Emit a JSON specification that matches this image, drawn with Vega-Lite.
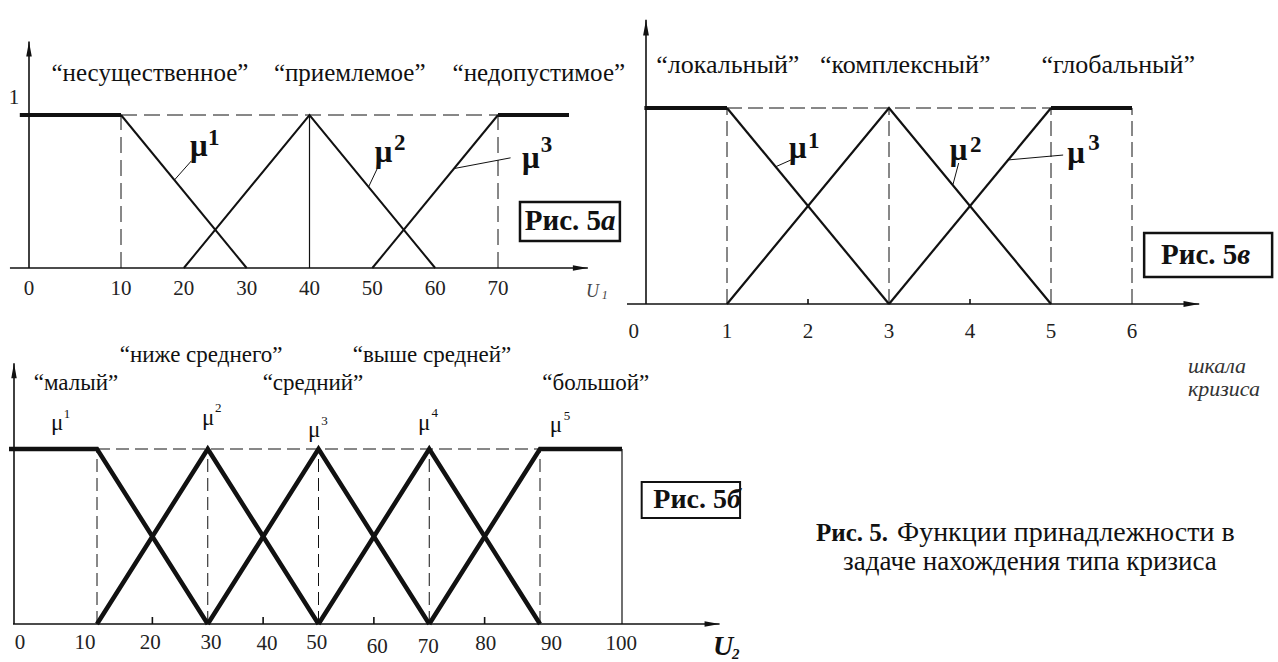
{
  "$schema": "https://vega.github.io/schema/vega-lite/v6.json",
  "width": 1278,
  "height": 662,
  "padding": 0,
  "autosize": {"type": "none"},
  "background": "white",
  "config": {
    "view": {"stroke": null},
    "mark": {"font": "Liberation Serif"},
    "text": {"font": "Liberation Serif", "color": "#111"},
    "rule": {"color": "#111"},
    "line": {"color": "#111"}
  },
  "datasets": {
    "aSeg": [
      {"k": "dash", "x": 10, "y": 0, "x2": 10, "y2": 1},
      {"k": "dash", "x": 70, "y": 0, "x2": 70, "y2": 1},
      {"k": "dash", "x": 10, "y": 1, "x2": 70, "y2": 1},
      {"k": "solid", "x": 40, "y": 0, "x2": 40, "y2": 1},
      {"k": "axis", "x": -2.07, "y": 0, "x2": 84.3, "y2": 0},
      {"k": "axis", "x": 0, "y": 0, "x2": 0, "y2": 1.48},
      {"k": "leader", "x": 18.5, "y": 0.575, "x2": 21.2, "y2": 0.7},
      {"k": "leader", "x": 49.4, "y": 0.53, "x2": 51.2, "y2": 0.686},
      {"k": "leader", "x": 63, "y": 0.65, "x2": 72, "y2": 0.72}
    ],
    "aMF": [
      {"mf": "m1", "o": 1, "x": 10, "y": 1},
      {"mf": "m1", "o": 2, "x": 30, "y": 0},
      {"mf": "m2", "o": 1, "x": 20, "y": 0},
      {"mf": "m2", "o": 2, "x": 40, "y": 1},
      {"mf": "m2", "o": 3, "x": 60, "y": 0},
      {"mf": "m3", "o": 1, "x": 50, "y": 0},
      {"mf": "m3", "o": 2, "x": 70, "y": 1}
    ],
    "aPlat": [
      {"mf": "p1", "o": 1, "x": -1, "y": 1},
      {"mf": "p1", "o": 2, "x": 10, "y": 1},
      {"mf": "p3", "o": 1, "x": 70, "y": 1},
      {"mf": "p3", "o": 2, "x": 81.3, "y": 1}
    ],
    "aArrow": [
      {"d": "r", "x": 84.3, "y": 0},
      {"d": "u", "x": 0, "y": 1.48}
    ],
    "aBox": [{"x": 73.5, "y": 0.176, "x2": 89.4, "y2": 0.431}],
    "aText": [
      {"k": "tick", "x": 0, "y": -0.137, "t": "0"},
      {"k": "tick", "x": 10, "y": -0.137, "t": "10"},
      {"k": "tick", "x": 20, "y": -0.137, "t": "20"},
      {"k": "tick", "x": 30, "y": -0.137, "t": "30"},
      {"k": "tick", "x": 40, "y": -0.137, "t": "40"},
      {"k": "tick", "x": 50, "y": -0.137, "t": "50"},
      {"k": "tick", "x": 60, "y": -0.137, "t": "60"},
      {"k": "tick", "x": 70, "y": -0.137, "t": "70"},
      {"k": "tick", "x": -1.63, "y": 1.11, "t": "1"},
      {"k": "cat", "x": 14.6, "y": 1.275, "t": "“несущественное”"},
      {"k": "cat", "x": 46.4, "y": 1.275, "t": "“приемлемое”"},
      {"k": "cat", "x": 76.5, "y": 1.275, "t": "“недопустимое”"},
      {"k": "mu", "x": 21.0, "y": 0.732, "t": "μ"},
      {"k": "mu", "x": 50.4, "y": 0.693, "t": "μ"},
      {"k": "mu", "x": 73.8, "y": 0.654, "t": "μ"},
      {"k": "sup", "x": 23.85, "y": 0.804, "t": "1"},
      {"k": "sup", "x": 53.45, "y": 0.771, "t": "2"},
      {"k": "sup", "x": 76.8, "y": 0.758, "t": "3"},
      {"k": "box", "x": 86.4, "y": 0.304, "t": "Рис. 5"},
      {"k": "boxi", "x": 86.4, "y": 0.304, "t": "а"},
      {"k": "u", "x": 84.0, "y": -0.19, "t": "U"},
      {"k": "usub", "x": 86.5, "y": -0.205, "t": "1"}
    ],
    "bSeg": [
      {"k": "dash", "x": 1, "y": 1, "x2": 6, "y2": 1},
      {"k": "dash", "x": 1, "y": 0, "x2": 1, "y2": 1},
      {"k": "dash", "x": 3, "y": 0, "x2": 3, "y2": 1},
      {"k": "dash", "x": 5, "y": 0, "x2": 5, "y2": 1},
      {"k": "dash", "x": 6, "y": 0, "x2": 6, "y2": 1},
      {"k": "axis", "x": -0.235, "y": 0, "x2": 6.83, "y2": 0},
      {"k": "axis", "x": 0, "y": 0, "x2": 0, "y2": 1.45},
      {"k": "axis", "x": 2, "y": 0, "x2": 2, "y2": 0.025},
      {"k": "axis", "x": 4, "y": 0, "x2": 4, "y2": 0.025},
      {"k": "leader", "x": 1.6, "y": 0.7, "x2": 1.79, "y2": 0.735},
      {"k": "leader", "x": 3.79, "y": 0.61, "x2": 3.86, "y2": 0.719},
      {"k": "leader", "x": 4.47, "y": 0.735, "x2": 5.15, "y2": 0.76}
    ],
    "bMF": [
      {"mf": "m1", "o": 1, "x": 1, "y": 1},
      {"mf": "m1", "o": 2, "x": 3, "y": 0},
      {"mf": "m2", "o": 1, "x": 1, "y": 0},
      {"mf": "m2", "o": 2, "x": 3, "y": 1},
      {"mf": "m2", "o": 3, "x": 5, "y": 0},
      {"mf": "m3", "o": 1, "x": 3, "y": 0},
      {"mf": "m3", "o": 2, "x": 5, "y": 1}
    ],
    "bPlat": [
      {"mf": "p1", "o": 1, "x": -0.02, "y": 1},
      {"mf": "p1", "o": 2, "x": 1, "y": 1},
      {"mf": "p3", "o": 1, "x": 5, "y": 1},
      {"mf": "p3", "o": 2, "x": 6, "y": 1}
    ],
    "bArrow": [
      {"d": "r", "x": 6.83, "y": 0},
      {"d": "u", "x": 0, "y": 1.45}
    ],
    "bBox": [{"x": 6.15, "y": 0.138, "x2": 7.73, "y2": 0.362}],
    "bText": [
      {"k": "tick", "x": -0.15, "y": -0.143, "t": "0"},
      {"k": "tick", "x": 1, "y": -0.143, "t": "1"},
      {"k": "tick", "x": 2, "y": -0.143, "t": "2"},
      {"k": "tick", "x": 3, "y": -0.143, "t": "3"},
      {"k": "tick", "x": 4, "y": -0.143, "t": "4"},
      {"k": "tick", "x": 5, "y": -0.143, "t": "5"},
      {"k": "tick", "x": 6, "y": -0.143, "t": "6"},
      {"k": "cat", "x": 1.01, "y": 1.219, "t": "“локальный”"},
      {"k": "cat", "x": 3.2, "y": 1.219, "t": "“комплексный”"},
      {"k": "cat", "x": 5.83, "y": 1.219, "t": "“глобальный”"},
      {"k": "mu", "x": 1.765, "y": 0.745, "t": "μ"},
      {"k": "mu", "x": 3.75, "y": 0.735, "t": "μ"},
      {"k": "mu", "x": 5.2, "y": 0.719, "t": "μ"},
      {"k": "sup", "x": 2.0, "y": 0.796, "t": "1"},
      {"k": "sup", "x": 4.0, "y": 0.776, "t": "2"},
      {"k": "sup", "x": 5.46, "y": 0.786, "t": "3"},
      {"k": "box", "x": 7.3, "y": 0.25, "t": "Рис. 5"},
      {"k": "boxi", "x": 7.3, "y": 0.25, "t": "в"},
      {"k": "note", "x": 6.69, "y": -0.316, "t": "шкала"},
      {"k": "note", "x": 6.69, "y": -0.434, "t": "кризиса"},
      {"k": "capb", "x": 2.988, "y": -1.168, "t": "Рис. 5."},
      {"k": "capr", "x": 3.099, "y": -1.168, "t": "Функции принадлежности в"},
      {"k": "capc", "x": 4.74, "y": -1.316, "t": "задаче нахождения типа кризиса"}
    ],
    "cSeg": [
      {"k": "dash", "x": 10, "y": 1, "x2": 90, "y2": 1},
      {"k": "dash", "x": 10, "y": 0, "x2": 10, "y2": 1},
      {"k": "dash", "x": 30, "y": 0, "x2": 30, "y2": 1},
      {"k": "dash", "x": 50, "y": 0, "x2": 50, "y2": 1},
      {"k": "dash", "x": 70, "y": 0, "x2": 70, "y2": 1},
      {"k": "dash", "x": 90, "y": 0, "x2": 90, "y2": 1},
      {"k": "solid", "x": 100, "y": 0, "x2": 100, "y2": 1},
      {"k": "axis", "x": -0.12, "y": 0, "x2": 111.9, "y2": 0},
      {"k": "axis", "x": 0, "y": 0, "x2": 0, "y2": 1.49},
      {"k": "axis", "x": 20, "y": 0, "x2": 20, "y2": 0.04},
      {"k": "axis", "x": 40, "y": 0, "x2": 40, "y2": 0.04},
      {"k": "axis", "x": 60, "y": 0, "x2": 60, "y2": 0.04},
      {"k": "axis", "x": 80, "y": 0, "x2": 80, "y2": 0.04}
    ],
    "cMF": [
      {"mf": "m1", "o": 1, "x": -0.6, "y": 1},
      {"mf": "m1", "o": 2, "x": 10, "y": 1},
      {"mf": "m1", "o": 3, "x": 30, "y": 0},
      {"mf": "m2", "o": 1, "x": 10, "y": 0},
      {"mf": "m2", "o": 2, "x": 30, "y": 1},
      {"mf": "m2", "o": 3, "x": 50, "y": 0},
      {"mf": "m3", "o": 1, "x": 30, "y": 0},
      {"mf": "m3", "o": 2, "x": 50, "y": 1},
      {"mf": "m3", "o": 3, "x": 70, "y": 0},
      {"mf": "m4", "o": 1, "x": 50, "y": 0},
      {"mf": "m4", "o": 2, "x": 70, "y": 1},
      {"mf": "m4", "o": 3, "x": 90, "y": 0},
      {"mf": "m5", "o": 1, "x": 70, "y": 0},
      {"mf": "m5", "o": 2, "x": 90, "y": 1},
      {"mf": "m5", "o": 3, "x": 100, "y": 1}
    ],
    "cArrow": [
      {"d": "r", "x": 111.9, "y": 0},
      {"d": "u", "x": 0, "y": 1.49}
    ],
    "cBox": [{"x": 102.4, "y": 0.606, "x2": 114.4, "y2": 0.811}],
    "cText": [
      {"k": "tick", "x": 0.72, "y": -0.109, "t": "0"},
      {"k": "tick", "x": 8.55, "y": -0.109, "t": "10"},
      {"k": "tick", "x": 19.6, "y": -0.109, "t": "20"},
      {"k": "tick", "x": 30.6, "y": -0.109, "t": "30"},
      {"k": "tick", "x": 40.7, "y": -0.115, "t": "40"},
      {"k": "tick", "x": 49.7, "y": -0.109, "t": "50"},
      {"k": "tick", "x": 60.6, "y": -0.131, "t": "60"},
      {"k": "tick", "x": 69.8, "y": -0.131, "t": "70"},
      {"k": "tick", "x": 80.2, "y": -0.115, "t": "80"},
      {"k": "tick", "x": 91.4, "y": -0.115, "t": "90"},
      {"k": "tick", "x": 99.9, "y": -0.115, "t": "100"},
      {"k": "cat", "x": 7.47, "y": 1.377, "t": "“малый”"},
      {"k": "cat", "x": 28.8, "y": 1.537, "t": "“ниже среднего”"},
      {"k": "cat", "x": 49.0, "y": 1.377, "t": "“средний”"},
      {"k": "cat", "x": 70.5, "y": 1.537, "t": "“выше средней”"},
      {"k": "cat", "x": 96.8, "y": 1.377, "t": "“большой”"},
      {"k": "mu", "x": 4.46, "y": 1.109, "t": "μ"},
      {"k": "mu", "x": 28.96, "y": 1.137, "t": "μ"},
      {"k": "mu", "x": 48.1, "y": 1.069, "t": "μ"},
      {"k": "mu", "x": 67.97, "y": 1.109, "t": "μ"},
      {"k": "mu", "x": 91.2, "y": 1.097, "t": "μ"},
      {"k": "sup", "x": 6.0, "y": 1.177, "t": "1"},
      {"k": "sup", "x": 31.3, "y": 1.211, "t": "2"},
      {"k": "sup", "x": 50.5, "y": 1.137, "t": "3"},
      {"k": "sup", "x": 70.4, "y": 1.183, "t": "4"},
      {"k": "sup", "x": 92.9, "y": 1.166, "t": "5"},
      {"k": "box", "x": 112.8, "y": 0.709, "t": "Рис. 5"},
      {"k": "boxi", "x": 112.8, "y": 0.709, "t": "б"},
      {"k": "u", "x": 111.1, "y": -0.177, "t": "U"},
      {"k": "usub", "x": 113.4, "y": -0.2, "t": "2"}
    ]
  },
  "layer": [
    {
      "layer": [
        {"data": {"name": "aSeg"}, "transform": [{"filter": "datum.k === 'dash'"}], "mark": {"type": "rule", "strokeDash": [16, 7], "strokeWidth": 1},
         "encoding": {"x": {"field": "x", "type": "quantitative", "scale": {"domain": [0, 10, 70], "range": [29, 121, 498], "zero": false, "nice": false}, "axis": null}, "y": {"field": "y", "type": "quantitative", "scale": {"domain": [0, 1], "range": [268, 115], "zero": false, "nice": false}, "axis": null}, "x2": {"field": "x2"}, "y2": {"field": "y2"}}},
        {"data": {"name": "aSeg"}, "transform": [{"filter": "datum.k === 'solid'"}], "mark": {"type": "rule", "strokeWidth": 1.2},
         "encoding": {"x": {"field": "x", "type": "quantitative", "scale": {"domain": [0, 10, 70], "range": [29, 121, 498], "zero": false, "nice": false}, "axis": null}, "y": {"field": "y", "type": "quantitative", "scale": {"domain": [0, 1], "range": [268, 115], "zero": false, "nice": false}, "axis": null}, "x2": {"field": "x2"}, "y2": {"field": "y2"}}},
        {"data": {"name": "aSeg"}, "transform": [{"filter": "datum.k === 'axis'"}], "mark": {"type": "rule", "strokeWidth": 1.6},
         "encoding": {"x": {"field": "x", "type": "quantitative", "scale": {"domain": [0, 10, 70], "range": [29, 121, 498], "zero": false, "nice": false}, "axis": null}, "y": {"field": "y", "type": "quantitative", "scale": {"domain": [0, 1], "range": [268, 115], "zero": false, "nice": false}, "axis": null}, "x2": {"field": "x2"}, "y2": {"field": "y2"}}},
        {"data": {"name": "aSeg"}, "transform": [{"filter": "datum.k === 'leader'"}], "mark": {"type": "rule", "strokeWidth": 1},
         "encoding": {"x": {"field": "x", "type": "quantitative", "scale": {"domain": [0, 10, 70], "range": [29, 121, 498], "zero": false, "nice": false}, "axis": null}, "y": {"field": "y", "type": "quantitative", "scale": {"domain": [0, 1], "range": [268, 115], "zero": false, "nice": false}, "axis": null}, "x2": {"field": "x2"}, "y2": {"field": "y2"}}},
        {"data": {"name": "aMF"}, "mark": {"type": "line", "strokeWidth": 2},
         "encoding": {"x": {"field": "x", "type": "quantitative", "scale": {"domain": [0, 10, 70], "range": [29, 121, 498], "zero": false, "nice": false}, "axis": null}, "y": {"field": "y", "type": "quantitative", "scale": {"domain": [0, 1], "range": [268, 115], "zero": false, "nice": false}, "axis": null}, "detail": {"field": "mf"}, "order": {"field": "o"}}},
        {"data": {"name": "aPlat"}, "mark": {"type": "line", "strokeWidth": 4},
         "encoding": {"x": {"field": "x", "type": "quantitative", "scale": {"domain": [0, 10, 70], "range": [29, 121, 498], "zero": false, "nice": false}, "axis": null}, "y": {"field": "y", "type": "quantitative", "scale": {"domain": [0, 1], "range": [268, 115], "zero": false, "nice": false}, "axis": null}, "detail": {"field": "mf"}, "order": {"field": "o"}}},
        {"data": {"name": "aArrow"}, "mark": {"type": "point", "filled": true, "size": 100, "opacity": 1, "color": "#111"},
         "encoding": {"x": {"field": "x", "type": "quantitative", "scale": {"domain": [0, 10, 70], "range": [29, 121, 498], "zero": false, "nice": false}, "axis": null}, "y": {"field": "y", "type": "quantitative", "scale": {"domain": [0, 1], "range": [268, 115], "zero": false, "nice": false}, "axis": null}, "shape": {"field": "d", "type": "nominal", "scale": {"domain": ["r", "u"], "range": ["M -3 -0.55 L 0 0 L -3 0.55 Z", "M -0.55 3 L 0 0 L 0.55 3 Z"]}, "legend": null}}},
        {"data": {"name": "aBox"}, "mark": {"type": "rect", "fill": "white", "stroke": "#111", "strokeWidth": 2.5},
         "encoding": {"x": {"field": "x", "type": "quantitative", "scale": {"domain": [0, 10, 70], "range": [29, 121, 498], "zero": false, "nice": false}, "axis": null}, "y": {"field": "y", "type": "quantitative", "scale": {"domain": [0, 1], "range": [268, 115], "zero": false, "nice": false}, "axis": null}, "x2": {"field": "x2"}, "y2": {"field": "y2"}}},
        {"data": {"name": "aText"}, "transform": [{"filter": "datum.k === 'tick'"}], "mark": {"type": "text", "font": "Liberation Serif", "fontSize": 21, "align": "center", "baseline": "middle", "color": "#222"},
         "encoding": {"x": {"field": "x", "type": "quantitative", "scale": {"domain": [0, 10, 70], "range": [29, 121, 498], "zero": false, "nice": false}, "axis": null}, "y": {"field": "y", "type": "quantitative", "scale": {"domain": [0, 1], "range": [268, 115], "zero": false, "nice": false}, "axis": null}, "text": {"field": "t"}}},
        {"data": {"name": "aText"}, "transform": [{"filter": "datum.k === 'cat'"}], "mark": {"type": "text", "font": "Liberation Serif", "fontSize": 25, "align": "center", "baseline": "middle"},
         "encoding": {"x": {"field": "x", "type": "quantitative", "scale": {"domain": [0, 10, 70], "range": [29, 121, 498], "zero": false, "nice": false}, "axis": null}, "y": {"field": "y", "type": "quantitative", "scale": {"domain": [0, 1], "range": [268, 115], "zero": false, "nice": false}, "axis": null}, "text": {"field": "t"}}},
        {"data": {"name": "aText"}, "transform": [{"filter": "datum.k === 'mu'"}], "mark": {"type": "text", "font": "Liberation Serif", "fontSize": 31, "fontWeight": "bold", "align": "left", "baseline": "alphabetic"},
         "encoding": {"x": {"field": "x", "type": "quantitative", "scale": {"domain": [0, 10, 70], "range": [29, 121, 498], "zero": false, "nice": false}, "axis": null}, "y": {"field": "y", "type": "quantitative", "scale": {"domain": [0, 1], "range": [268, 115], "zero": false, "nice": false}, "axis": null}, "text": {"field": "t"}}},
        {"data": {"name": "aText"}, "transform": [{"filter": "datum.k === 'sup'"}], "mark": {"type": "text", "font": "Liberation Serif", "fontSize": 23, "fontWeight": "bold", "align": "left", "baseline": "alphabetic"},
         "encoding": {"x": {"field": "x", "type": "quantitative", "scale": {"domain": [0, 10, 70], "range": [29, 121, 498], "zero": false, "nice": false}, "axis": null}, "y": {"field": "y", "type": "quantitative", "scale": {"domain": [0, 1], "range": [268, 115], "zero": false, "nice": false}, "axis": null}, "text": {"field": "t"}}},
        {"data": {"name": "aText"}, "transform": [{"filter": "datum.k === 'box'"}], "mark": {"type": "text", "font": "Liberation Serif", "fontSize": 29, "fontWeight": "bold", "align": "right", "baseline": "middle"},
         "encoding": {"x": {"field": "x", "type": "quantitative", "scale": {"domain": [0, 10, 70], "range": [29, 121, 498], "zero": false, "nice": false}, "axis": null}, "y": {"field": "y", "type": "quantitative", "scale": {"domain": [0, 1], "range": [268, 115], "zero": false, "nice": false}, "axis": null}, "text": {"field": "t"}}},
        {"data": {"name": "aText"}, "transform": [{"filter": "datum.k === 'boxi'"}], "mark": {"type": "text", "font": "Liberation Serif", "fontSize": 29, "fontWeight": "bold", "fontStyle": "italic", "align": "left", "baseline": "middle"},
         "encoding": {"x": {"field": "x", "type": "quantitative", "scale": {"domain": [0, 10, 70], "range": [29, 121, 498], "zero": false, "nice": false}, "axis": null}, "y": {"field": "y", "type": "quantitative", "scale": {"domain": [0, 1], "range": [268, 115], "zero": false, "nice": false}, "axis": null}, "text": {"field": "t"}}},
        {"data": {"name": "aText"}, "transform": [{"filter": "datum.k === 'u'"}], "mark": {"type": "text", "font": "Liberation Serif", "fontSize": 18, "fontStyle": "italic", "align": "left", "baseline": "alphabetic", "color": "#444"},
         "encoding": {"x": {"field": "x", "type": "quantitative", "scale": {"domain": [0, 10, 70], "range": [29, 121, 498], "zero": false, "nice": false}, "axis": null}, "y": {"field": "y", "type": "quantitative", "scale": {"domain": [0, 1], "range": [268, 115], "zero": false, "nice": false}, "axis": null}, "text": {"field": "t"}}},
        {"data": {"name": "aText"}, "transform": [{"filter": "datum.k === 'usub'"}], "mark": {"type": "text", "font": "Liberation Serif", "fontSize": 12, "fontStyle": "italic", "align": "left", "baseline": "alphabetic", "color": "#444"},
         "encoding": {"x": {"field": "x", "type": "quantitative", "scale": {"domain": [0, 10, 70], "range": [29, 121, 498], "zero": false, "nice": false}, "axis": null}, "y": {"field": "y", "type": "quantitative", "scale": {"domain": [0, 1], "range": [268, 115], "zero": false, "nice": false}, "axis": null}, "text": {"field": "t"}}}
      ]
    },
    {
      "layer": [
        {"data": {"name": "bSeg"}, "transform": [{"filter": "datum.k === 'dash'"}], "mark": {"type": "rule", "strokeDash": [15, 6], "strokeWidth": 1},
         "encoding": {"x": {"field": "x", "type": "quantitative", "scale": {"domain": [0, 6], "range": [646, 1132], "zero": false, "nice": false}, "axis": null}, "y": {"field": "y", "type": "quantitative", "scale": {"domain": [0, 1], "range": [304, 108], "zero": false, "nice": false}, "axis": null}, "x2": {"field": "x2"}, "y2": {"field": "y2"}}},
        {"data": {"name": "bSeg"}, "transform": [{"filter": "datum.k === 'axis'"}], "mark": {"type": "rule", "strokeWidth": 1.6},
         "encoding": {"x": {"field": "x", "type": "quantitative", "scale": {"domain": [0, 6], "range": [646, 1132], "zero": false, "nice": false}, "axis": null}, "y": {"field": "y", "type": "quantitative", "scale": {"domain": [0, 1], "range": [304, 108], "zero": false, "nice": false}, "axis": null}, "x2": {"field": "x2"}, "y2": {"field": "y2"}}},
        {"data": {"name": "bSeg"}, "transform": [{"filter": "datum.k === 'leader'"}], "mark": {"type": "rule", "strokeWidth": 1},
         "encoding": {"x": {"field": "x", "type": "quantitative", "scale": {"domain": [0, 6], "range": [646, 1132], "zero": false, "nice": false}, "axis": null}, "y": {"field": "y", "type": "quantitative", "scale": {"domain": [0, 1], "range": [304, 108], "zero": false, "nice": false}, "axis": null}, "x2": {"field": "x2"}, "y2": {"field": "y2"}}},
        {"data": {"name": "bMF"}, "mark": {"type": "line", "strokeWidth": 2.2},
         "encoding": {"x": {"field": "x", "type": "quantitative", "scale": {"domain": [0, 6], "range": [646, 1132], "zero": false, "nice": false}, "axis": null}, "y": {"field": "y", "type": "quantitative", "scale": {"domain": [0, 1], "range": [304, 108], "zero": false, "nice": false}, "axis": null}, "detail": {"field": "mf"}, "order": {"field": "o"}}},
        {"data": {"name": "bPlat"}, "mark": {"type": "line", "strokeWidth": 4},
         "encoding": {"x": {"field": "x", "type": "quantitative", "scale": {"domain": [0, 6], "range": [646, 1132], "zero": false, "nice": false}, "axis": null}, "y": {"field": "y", "type": "quantitative", "scale": {"domain": [0, 1], "range": [304, 108], "zero": false, "nice": false}, "axis": null}, "detail": {"field": "mf"}, "order": {"field": "o"}}},
        {"data": {"name": "bArrow"}, "mark": {"type": "point", "filled": true, "size": 110, "opacity": 1, "color": "#111"},
         "encoding": {"x": {"field": "x", "type": "quantitative", "scale": {"domain": [0, 6], "range": [646, 1132], "zero": false, "nice": false}, "axis": null}, "y": {"field": "y", "type": "quantitative", "scale": {"domain": [0, 1], "range": [304, 108], "zero": false, "nice": false}, "axis": null}, "shape": {"field": "d", "type": "nominal", "scale": {"domain": ["r", "u"], "range": ["M -3 -0.55 L 0 0 L -3 0.55 Z", "M -0.55 3 L 0 0 L 0.55 3 Z"]}, "legend": null}}},
        {"data": {"name": "bBox"}, "mark": {"type": "rect", "fill": "white", "stroke": "#111", "strokeWidth": 2.5},
         "encoding": {"x": {"field": "x", "type": "quantitative", "scale": {"domain": [0, 6], "range": [646, 1132], "zero": false, "nice": false}, "axis": null}, "y": {"field": "y", "type": "quantitative", "scale": {"domain": [0, 1], "range": [304, 108], "zero": false, "nice": false}, "axis": null}, "x2": {"field": "x2"}, "y2": {"field": "y2"}}},
        {"data": {"name": "bText"}, "transform": [{"filter": "datum.k === 'tick'"}], "mark": {"type": "text", "font": "Liberation Serif", "fontSize": 21, "align": "center", "baseline": "middle", "color": "#222"},
         "encoding": {"x": {"field": "x", "type": "quantitative", "scale": {"domain": [0, 6], "range": [646, 1132], "zero": false, "nice": false}, "axis": null}, "y": {"field": "y", "type": "quantitative", "scale": {"domain": [0, 1], "range": [304, 108], "zero": false, "nice": false}, "axis": null}, "text": {"field": "t"}}},
        {"data": {"name": "bText"}, "transform": [{"filter": "datum.k === 'cat'"}], "mark": {"type": "text", "font": "Liberation Serif", "fontSize": 26, "align": "center", "baseline": "middle"},
         "encoding": {"x": {"field": "x", "type": "quantitative", "scale": {"domain": [0, 6], "range": [646, 1132], "zero": false, "nice": false}, "axis": null}, "y": {"field": "y", "type": "quantitative", "scale": {"domain": [0, 1], "range": [304, 108], "zero": false, "nice": false}, "axis": null}, "text": {"field": "t"}}},
        {"data": {"name": "bText"}, "transform": [{"filter": "datum.k === 'mu'"}], "mark": {"type": "text", "font": "Liberation Serif", "fontSize": 31, "fontWeight": "bold", "align": "left", "baseline": "alphabetic"},
         "encoding": {"x": {"field": "x", "type": "quantitative", "scale": {"domain": [0, 6], "range": [646, 1132], "zero": false, "nice": false}, "axis": null}, "y": {"field": "y", "type": "quantitative", "scale": {"domain": [0, 1], "range": [304, 108], "zero": false, "nice": false}, "axis": null}, "text": {"field": "t"}}},
        {"data": {"name": "bText"}, "transform": [{"filter": "datum.k === 'sup'"}], "mark": {"type": "text", "font": "Liberation Serif", "fontSize": 23, "fontWeight": "bold", "align": "left", "baseline": "alphabetic"},
         "encoding": {"x": {"field": "x", "type": "quantitative", "scale": {"domain": [0, 6], "range": [646, 1132], "zero": false, "nice": false}, "axis": null}, "y": {"field": "y", "type": "quantitative", "scale": {"domain": [0, 1], "range": [304, 108], "zero": false, "nice": false}, "axis": null}, "text": {"field": "t"}}},
        {"data": {"name": "bText"}, "transform": [{"filter": "datum.k === 'box'"}], "mark": {"type": "text", "font": "Liberation Serif", "fontSize": 29, "fontWeight": "bold", "align": "right", "baseline": "middle"},
         "encoding": {"x": {"field": "x", "type": "quantitative", "scale": {"domain": [0, 6], "range": [646, 1132], "zero": false, "nice": false}, "axis": null}, "y": {"field": "y", "type": "quantitative", "scale": {"domain": [0, 1], "range": [304, 108], "zero": false, "nice": false}, "axis": null}, "text": {"field": "t"}}},
        {"data": {"name": "bText"}, "transform": [{"filter": "datum.k === 'boxi'"}], "mark": {"type": "text", "font": "Liberation Serif", "fontSize": 29, "fontWeight": "bold", "fontStyle": "italic", "align": "left", "baseline": "middle"},
         "encoding": {"x": {"field": "x", "type": "quantitative", "scale": {"domain": [0, 6], "range": [646, 1132], "zero": false, "nice": false}, "axis": null}, "y": {"field": "y", "type": "quantitative", "scale": {"domain": [0, 1], "range": [304, 108], "zero": false, "nice": false}, "axis": null}, "text": {"field": "t"}}},
        {"data": {"name": "bText"}, "transform": [{"filter": "datum.k === 'note'"}], "mark": {"type": "text", "font": "Liberation Serif", "fontSize": 22, "fontStyle": "italic", "align": "left", "baseline": "middle", "color": "#333"},
         "encoding": {"x": {"field": "x", "type": "quantitative", "scale": {"domain": [0, 6], "range": [646, 1132], "zero": false, "nice": false}, "axis": null}, "y": {"field": "y", "type": "quantitative", "scale": {"domain": [0, 1], "range": [304, 108], "zero": false, "nice": false}, "axis": null}, "text": {"field": "t"}}},
        {"data": {"name": "bText"}, "transform": [{"filter": "datum.k === 'capb'"}], "mark": {"type": "text", "font": "Liberation Serif", "fontSize": 25, "fontWeight": "bold", "align": "right", "baseline": "middle"},
         "encoding": {"x": {"field": "x", "type": "quantitative", "scale": {"domain": [0, 6], "range": [646, 1132], "zero": false, "nice": false}, "axis": null}, "y": {"field": "y", "type": "quantitative", "scale": {"domain": [0, 1], "range": [304, 108], "zero": false, "nice": false}, "axis": null}, "text": {"field": "t"}}},
        {"data": {"name": "bText"}, "transform": [{"filter": "datum.k === 'capr'"}], "mark": {"type": "text", "font": "Liberation Serif", "fontSize": 28, "align": "left", "baseline": "middle"},
         "encoding": {"x": {"field": "x", "type": "quantitative", "scale": {"domain": [0, 6], "range": [646, 1132], "zero": false, "nice": false}, "axis": null}, "y": {"field": "y", "type": "quantitative", "scale": {"domain": [0, 1], "range": [304, 108], "zero": false, "nice": false}, "axis": null}, "text": {"field": "t"}}},
        {"data": {"name": "bText"}, "transform": [{"filter": "datum.k === 'capc'"}], "mark": {"type": "text", "font": "Liberation Serif", "fontSize": 27, "align": "center", "baseline": "middle"},
         "encoding": {"x": {"field": "x", "type": "quantitative", "scale": {"domain": [0, 6], "range": [646, 1132], "zero": false, "nice": false}, "axis": null}, "y": {"field": "y", "type": "quantitative", "scale": {"domain": [0, 1], "range": [304, 108], "zero": false, "nice": false}, "axis": null}, "text": {"field": "t"}}}
      ]
    },
    {
      "layer": [
        {"data": {"name": "cSeg"}, "transform": [{"filter": "datum.k === 'dash'"}], "mark": {"type": "rule", "strokeDash": [13, 6], "strokeWidth": 1},
         "encoding": {"x": {"field": "x", "type": "quantitative", "scale": {"domain": [0, 10, 90, 100], "range": [14, 97, 540, 622], "zero": false, "nice": false}, "axis": null}, "y": {"field": "y", "type": "quantitative", "scale": {"domain": [0, 1], "range": [624, 449], "zero": false, "nice": false}, "axis": null}, "x2": {"field": "x2"}, "y2": {"field": "y2"}}},
        {"data": {"name": "cSeg"}, "transform": [{"filter": "datum.k === 'solid'"}], "mark": {"type": "rule", "strokeWidth": 1.2},
         "encoding": {"x": {"field": "x", "type": "quantitative", "scale": {"domain": [0, 10, 90, 100], "range": [14, 97, 540, 622], "zero": false, "nice": false}, "axis": null}, "y": {"field": "y", "type": "quantitative", "scale": {"domain": [0, 1], "range": [624, 449], "zero": false, "nice": false}, "axis": null}, "x2": {"field": "x2"}, "y2": {"field": "y2"}}},
        {"data": {"name": "cSeg"}, "transform": [{"filter": "datum.k === 'axis'"}], "mark": {"type": "rule", "strokeWidth": 1.6},
         "encoding": {"x": {"field": "x", "type": "quantitative", "scale": {"domain": [0, 10, 90, 100], "range": [14, 97, 540, 622], "zero": false, "nice": false}, "axis": null}, "y": {"field": "y", "type": "quantitative", "scale": {"domain": [0, 1], "range": [624, 449], "zero": false, "nice": false}, "axis": null}, "x2": {"field": "x2"}, "y2": {"field": "y2"}}},
        {"data": {"name": "cMF"}, "mark": {"type": "line", "strokeWidth": 4.5, "strokeJoin": "miter"},
         "encoding": {"x": {"field": "x", "type": "quantitative", "scale": {"domain": [0, 10, 90, 100], "range": [14, 97, 540, 622], "zero": false, "nice": false}, "axis": null}, "y": {"field": "y", "type": "quantitative", "scale": {"domain": [0, 1], "range": [624, 449], "zero": false, "nice": false}, "axis": null}, "detail": {"field": "mf"}, "order": {"field": "o"}}},
        {"data": {"name": "cArrow"}, "mark": {"type": "point", "filled": true, "size": 100, "opacity": 1, "color": "#111"},
         "encoding": {"x": {"field": "x", "type": "quantitative", "scale": {"domain": [0, 10, 90, 100], "range": [14, 97, 540, 622], "zero": false, "nice": false}, "axis": null}, "y": {"field": "y", "type": "quantitative", "scale": {"domain": [0, 1], "range": [624, 449], "zero": false, "nice": false}, "axis": null}, "shape": {"field": "d", "type": "nominal", "scale": {"domain": ["r", "u"], "range": ["M -3 -0.55 L 0 0 L -3 0.55 Z", "M -0.55 3 L 0 0 L 0.55 3 Z"]}, "legend": null}}},
        {"data": {"name": "cBox"}, "mark": {"type": "rect", "fill": "white", "stroke": "#111", "strokeWidth": 2},
         "encoding": {"x": {"field": "x", "type": "quantitative", "scale": {"domain": [0, 10, 90, 100], "range": [14, 97, 540, 622], "zero": false, "nice": false}, "axis": null}, "y": {"field": "y", "type": "quantitative", "scale": {"domain": [0, 1], "range": [624, 449], "zero": false, "nice": false}, "axis": null}, "x2": {"field": "x2"}, "y2": {"field": "y2"}}},
        {"data": {"name": "cText"}, "transform": [{"filter": "datum.k === 'tick'"}], "mark": {"type": "text", "font": "Liberation Serif", "fontSize": 21, "align": "center", "baseline": "middle", "color": "#222"},
         "encoding": {"x": {"field": "x", "type": "quantitative", "scale": {"domain": [0, 10, 90, 100], "range": [14, 97, 540, 622], "zero": false, "nice": false}, "axis": null}, "y": {"field": "y", "type": "quantitative", "scale": {"domain": [0, 1], "range": [624, 449], "zero": false, "nice": false}, "axis": null}, "text": {"field": "t"}}},
        {"data": {"name": "cText"}, "transform": [{"filter": "datum.k === 'cat'"}], "mark": {"type": "text", "font": "Liberation Serif", "fontSize": 23, "align": "center", "baseline": "middle"},
         "encoding": {"x": {"field": "x", "type": "quantitative", "scale": {"domain": [0, 10, 90, 100], "range": [14, 97, 540, 622], "zero": false, "nice": false}, "axis": null}, "y": {"field": "y", "type": "quantitative", "scale": {"domain": [0, 1], "range": [624, 449], "zero": false, "nice": false}, "axis": null}, "text": {"field": "t"}}},
        {"data": {"name": "cText"}, "transform": [{"filter": "datum.k === 'mu'"}], "mark": {"type": "text", "font": "Liberation Serif", "fontSize": 23, "align": "left", "baseline": "alphabetic"},
         "encoding": {"x": {"field": "x", "type": "quantitative", "scale": {"domain": [0, 10, 90, 100], "range": [14, 97, 540, 622], "zero": false, "nice": false}, "axis": null}, "y": {"field": "y", "type": "quantitative", "scale": {"domain": [0, 1], "range": [624, 449], "zero": false, "nice": false}, "axis": null}, "text": {"field": "t"}}},
        {"data": {"name": "cText"}, "transform": [{"filter": "datum.k === 'sup'"}], "mark": {"type": "text", "font": "Liberation Serif", "fontSize": 13, "align": "left", "baseline": "alphabetic"},
         "encoding": {"x": {"field": "x", "type": "quantitative", "scale": {"domain": [0, 10, 90, 100], "range": [14, 97, 540, 622], "zero": false, "nice": false}, "axis": null}, "y": {"field": "y", "type": "quantitative", "scale": {"domain": [0, 1], "range": [624, 449], "zero": false, "nice": false}, "axis": null}, "text": {"field": "t"}}},
        {"data": {"name": "cText"}, "transform": [{"filter": "datum.k === 'box'"}], "mark": {"type": "text", "font": "Liberation Serif", "fontSize": 28, "fontWeight": "bold", "align": "right", "baseline": "middle"},
         "encoding": {"x": {"field": "x", "type": "quantitative", "scale": {"domain": [0, 10, 90, 100], "range": [14, 97, 540, 622], "zero": false, "nice": false}, "axis": null}, "y": {"field": "y", "type": "quantitative", "scale": {"domain": [0, 1], "range": [624, 449], "zero": false, "nice": false}, "axis": null}, "text": {"field": "t"}}},
        {"data": {"name": "cText"}, "transform": [{"filter": "datum.k === 'boxi'"}], "mark": {"type": "text", "font": "Liberation Serif", "fontSize": 28, "fontWeight": "bold", "fontStyle": "italic", "align": "left", "baseline": "middle"},
         "encoding": {"x": {"field": "x", "type": "quantitative", "scale": {"domain": [0, 10, 90, 100], "range": [14, 97, 540, 622], "zero": false, "nice": false}, "axis": null}, "y": {"field": "y", "type": "quantitative", "scale": {"domain": [0, 1], "range": [624, 449], "zero": false, "nice": false}, "axis": null}, "text": {"field": "t"}}},
        {"data": {"name": "cText"}, "transform": [{"filter": "datum.k === 'u'"}], "mark": {"type": "text", "font": "Liberation Serif", "fontSize": 28, "fontWeight": "bold", "fontStyle": "italic", "align": "left", "baseline": "alphabetic"},
         "encoding": {"x": {"field": "x", "type": "quantitative", "scale": {"domain": [0, 10, 90, 100], "range": [14, 97, 540, 622], "zero": false, "nice": false}, "axis": null}, "y": {"field": "y", "type": "quantitative", "scale": {"domain": [0, 1], "range": [624, 449], "zero": false, "nice": false}, "axis": null}, "text": {"field": "t"}}},
        {"data": {"name": "cText"}, "transform": [{"filter": "datum.k === 'usub'"}], "mark": {"type": "text", "font": "Liberation Serif", "fontSize": 15, "fontWeight": "bold", "fontStyle": "italic", "align": "left", "baseline": "alphabetic"},
         "encoding": {"x": {"field": "x", "type": "quantitative", "scale": {"domain": [0, 10, 90, 100], "range": [14, 97, 540, 622], "zero": false, "nice": false}, "axis": null}, "y": {"field": "y", "type": "quantitative", "scale": {"domain": [0, 1], "range": [624, 449], "zero": false, "nice": false}, "axis": null}, "text": {"field": "t"}}}
      ]
    }
  ],
  "resolve": {"scale": {"x": "independent", "y": "independent"}}
}
